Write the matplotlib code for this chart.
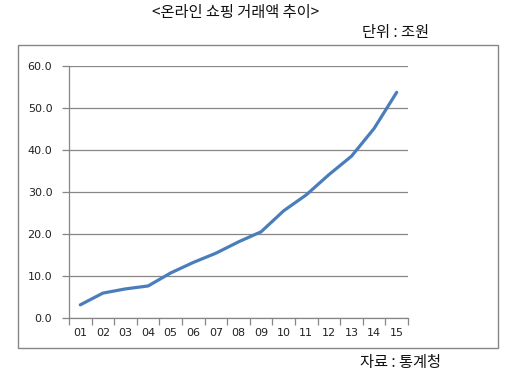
import numpy as np
import matplotlib.pyplot as plt
from matplotlib.patches import Rectangle

plt.rcParams['font.family'] = ['Noto Sans CJK KR', 'DejaVu Sans']

# Data (year 2001..2015, 조원)
years = ["01", "02", "03", "04", "05", "06", "07", "08", "09", "10", "11", "12", "13", "14", "15"]
amounts = [3.2, 6.0, 7.0, 7.7, 10.8, 13.3, 15.5, 18.2, 20.6, 25.6, 29.4, 34.2, 38.6, 45.2, 53.8]
y_ticks = [0, 10, 20, 30, 40, 50, 60]

W, H = 515, 374
fig = plt.figure(figsize=(W / 100, H / 100), dpi=100)
fig.patch.set_facecolor("white")

# Outer chart frame
fig.patches.append(Rectangle((18 / W, (H - 348) / H), 480 / W, 303 / H,
                             transform=fig.transFigure, fill=False,
                             edgecolor="#868686", linewidth=1.0))

ax = fig.add_axes([69 / W, (H - 318.3) / H, 339 / W, 252 / H])

x = np.arange(1, len(years) + 1)
ax.plot(x, amounts, color="#4a7ebb", linewidth=2.3, solid_capstyle="round")

ax.set_xlim(0.5, len(years) + 0.5)
ax.set_ylim(0, 60)

grid_col = "#868686"
ax.set_yticks(y_ticks)
ax.set_yticklabels([f"{v:.1f}" for v in y_ticks])
ax.yaxis.grid(True, color=grid_col, linewidth=0.9)
ax.set_axisbelow(True)

# tick marks between categories, labels at the centres
ax.set_xticks(np.arange(0.5, len(years) + 1, 1.0))
ax.set_xticklabels([])
ax.set_xticks(x, minor=True)
ax.set_xticklabels(years, minor=True)
ax.tick_params(axis="x", which="major", length=5, color=grid_col, width=0.9, direction="out")
ax.tick_params(axis="x", which="minor", length=0, pad=7, labelsize=8, labelcolor="#222222")
ax.tick_params(axis="y", length=5, color=grid_col, width=0.9, pad=7, labelsize=8, labelcolor="#222222")
for lbl in ax.get_xticklabels(minor=True) + ax.get_yticklabels():
    lbl.set_family("DejaVu Sans")

ax.spines["top"].set_visible(False)
ax.spines["right"].set_visible(False)
ax.spines["left"].set_color(grid_col)
ax.spines["bottom"].set_color(grid_col)
ax.spines["left"].set_linewidth(0.9)
ax.spines["bottom"].set_linewidth(0.9)

fig.text(235.5 / W, 1 - 13 / H, "<온라인 쇼핑 거래액 추이>", ha="center", va="center", fontsize=11, color="#111111")
fig.text(362 / W, 1 - 33 / H, "단위 : 조원", ha="left", va="center", fontsize=11, color="#111111")
fig.text(360 / W, 1 - 362 / H, "자료 : 통계청", ha="left", va="center", fontsize=11, color="#111111")

fig.savefig("out.png", dpi=100, facecolor="white")
